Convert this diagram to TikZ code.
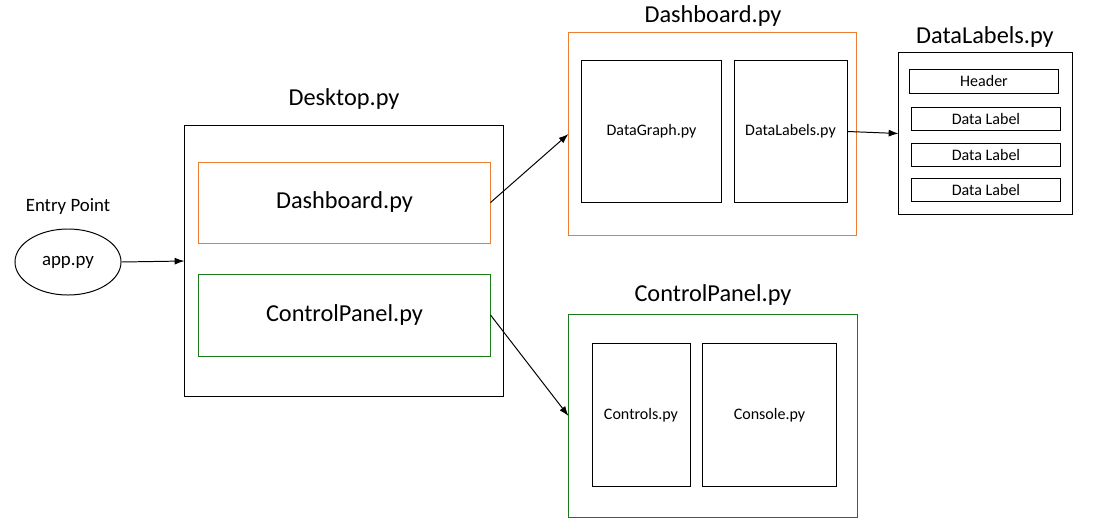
\documentclass[tikz,border=0pt]{standalone}
\usepackage{fontspec}
\setmainfont{Carlito}
\usetikzlibrary{arrows.meta,shapes.geometric}

\definecolor{dashorange}{HTML}{ED7D31}
\definecolor{ctrlgreen}{HTML}{1A7A1A}

\tikzset{
  box/.style={draw, line width=0.7pt, inner sep=0pt},
  bigtext/.style={font=\fontsize{17.3}{20}\selectfont},
  midtext/.style={font=\fontsize{13.4}{16}\selectfont},
  smalltext/.style={font=\fontsize{11.4}{14}\selectfont},
  link/.style={-{Latex[length=7pt,width=5pt]}, line width=0.7pt}
}

\begin{document}
\begin{tikzpicture}[x=0.025cm, y=-0.025cm]
\useasboundingbox (0,0) rectangle (1106,528);

% entry point
\node[midtext] (entrytitle) at (68,207) {Entry Point};
\node[box, ellipse, minimum width=2.65cm, minimum height=1.65cm, midtext] (app) at (68,262) {app.py};

% desktop
\node[bigtext] (desktoptitle) at (344,99) {Desktop.py};
\node[box, minimum width=7.95cm, minimum height=6.75cm] (desktop) at (344,261) {};
\node[box, draw=dashorange, minimum width=7.275cm, minimum height=2.025cm, bigtext] (dashinner) at (344.5,202.5) {Dashboard.py};
\node[box, draw=ctrlgreen, minimum width=7.275cm, minimum height=2.05cm, bigtext] (ctrlinner) at (344.5,315) {ControlPanel.py};

% dashboard
\node[bigtext] (dashtitle) at (713,16) {Dashboard.py};
\node[box, draw=dashorange, minimum width=7.175cm, minimum height=5.05cm] (dashouter) at (712.5,134) {};
\node[box, minimum width=3.475cm, minimum height=3.525cm, smalltext] (datagraph) at (651.5,131.5) {DataGraph.py};
\node[box, minimum width=2.825cm, minimum height=3.525cm, smalltext] (datalabels) at (790.5,131.5) {DataLabels.py};

% data labels
\node[bigtext] (labelstitle) at (985,37) {DataLabels.py};
\node[box, minimum width=4.325cm, minimum height=4.025cm] (labelsouter) at (985.5,133.5) {};
\node[box, minimum width=3.7cm, minimum height=0.6cm, smalltext] (header) at (984,81) {Header};
\node[box, minimum width=3.7cm, minimum height=0.575cm, smalltext] (label1) at (986,118.5) {Data Label};
\node[box, minimum width=3.7cm, minimum height=0.575cm, smalltext] (label2) at (986,154.5) {Data Label};
\node[box, minimum width=3.7cm, minimum height=0.575cm, smalltext] (label3) at (986,190) {Data Label};

% control panel
\node[bigtext] (ctrltitle) at (713,295) {ControlPanel.py};
\node[box, draw=ctrlgreen, minimum width=7.2cm, minimum height=5.05cm] (ctrlouter) at (713,416) {};
\node[box, minimum width=2.45cm, minimum height=3.55cm, smalltext] (controls) at (641,415) {Controls.py};
\node[box, minimum width=3.325cm, minimum height=3.55cm, smalltext] (console) at (769.5,415) {Console.py};

% connectors
\draw[link] (app.east) -- (desktop.west);
\draw[link] (dashinner.east) -- (dashouter.west);
\draw[link] (ctrlinner.east) -- (ctrlouter.west);
\draw[link] (datalabels.east) -- (labelsouter.west);
\end{tikzpicture}
\end{document}
